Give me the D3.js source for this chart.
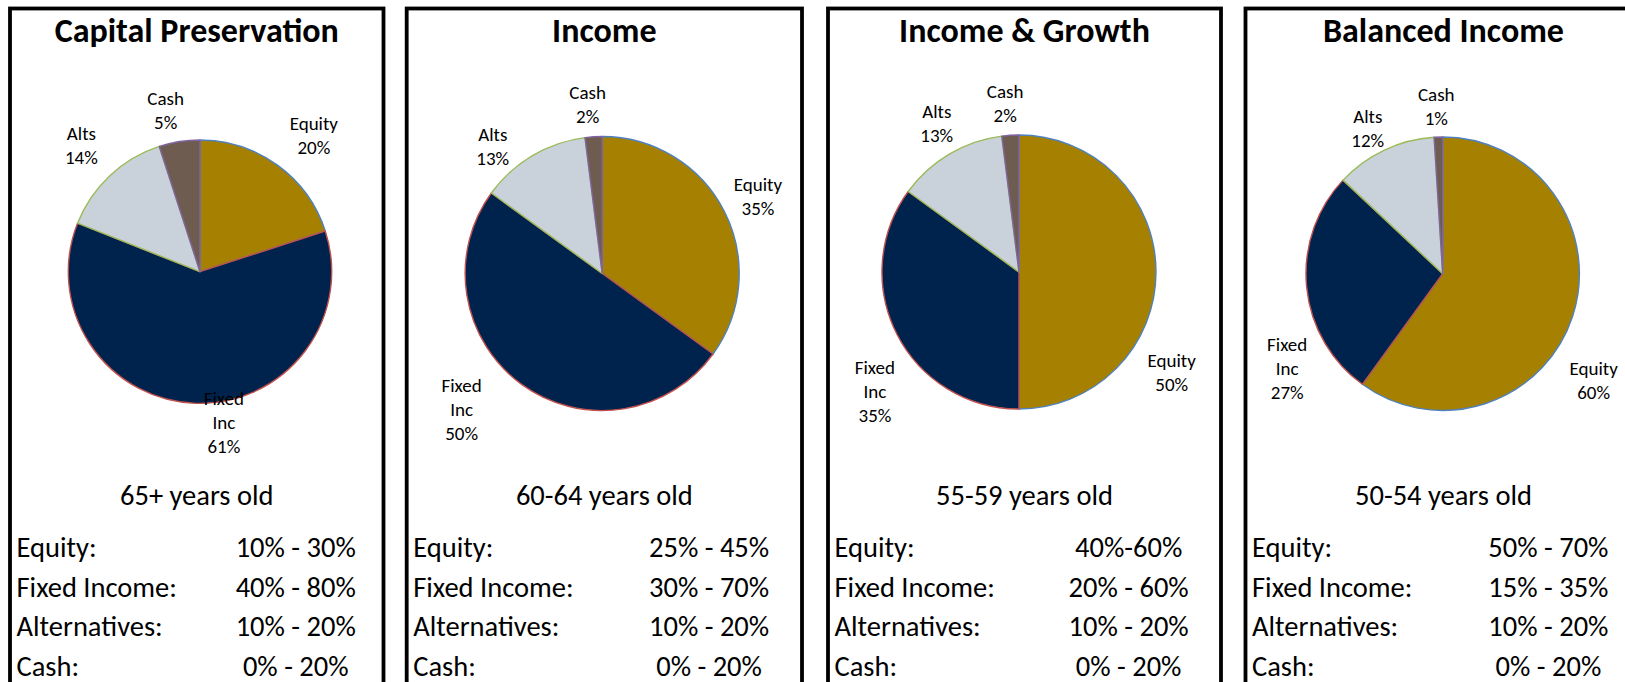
<!DOCTYPE html>
<html>
<head>
<meta charset="utf-8">
<script src="https://cdn.jsdelivr.net/npm/d3@7"></script>
<style>
  html, body { margin: 0; padding: 0; background: #fff; }
  svg { display: block; }
  text { font-family: Carlito, Lato, "Open Sans", sans-serif; fill: #000; }
</style>
</head>
<body>
<svg id="chart"></svg>
<script>
// ---- data ----
const categories = ["Equity", "Fixed Inc", "Alts", "Cash"];
const portfolios = ["Capital Preservation", "Income", "Income & Growth", "Balanced Income"];
const ageBands = ["65+ years old", "60-64 years old", "55-59 years old", "50-54 years old"];

const equityValues   = [20, 35, 50, 60];
const fixedIncValues = [61, 50, 35, 27];
const altsValues     = [14, 13, 13, 12];
const cashValues     = [5, 2, 2, 1];

const rangeNames   = ["Equity:", "Fixed Income:", "Alternatives:", "Cash:"];
const equityRanges = ["10% - 30%", "25% - 45%", "40%-60%", "50% - 70%"];
const fixedRanges  = ["40% - 80%", "30% - 70%", "20% - 60%", "15% - 35%"];
const altsRanges   = ["10% - 20%", "10% - 20%", "10% - 20%", "10% - 20%"];
const cashRanges   = ["0% - 20%", "0% - 20%", "0% - 20%", "0% - 20%"];

// ---- layout ----
const width = 1625, height = 682;

// panel boxes (x, w), pie centre relative to the panel, pie radius
const panels = [
  { x: 10,    w: 373.5, cx: 190,   cy: 271.7, r: 131.7 },
  { x: 406.7, w: 395.3, cx: 195.5, cy: 273.5, r: 137 },
  { x: 828,   w: 393,   cx: 191,   cy: 272,   r: 137 },
  { x: 1245.5,w: 396,   cx: 197.2, cy: 273.7, r: 136.7 }
];

// label directions (degrees clockwise from 12 o'clock) and distance in radii,
// as placed by the original "best fit" layout
const labelPolar = [
  [[39.8, 1.35], [171, 1.158], [316.9, 1.318], [348, 1.255]],
  [[63.7, 1.268], [226, 1.427], [319.3, 1.225], [355.1, 1.241]],
  [[123.2, 1.332], [230.5, 1.363], [331.1, 1.242], [355.3, 1.238]],
  [[125.3, 1.353], [238.6, 1.333], [332.7, 1.195], [357.8, 1.227]]
];

const fillColor = d3.scaleOrdinal()
    .domain(categories)
    .range(["#A68000", "#00234D", "#C9D1DA", "#6D5C4F"]);

const strokeColor = d3.scaleOrdinal()
    .domain(categories)
    .range(["#4F81BD", "#C0504D", "#9BBB59", "#8064A2"]);

const svg = d3.select("#chart")
    .attr("width", width)
    .attr("height", height);

const pie = d3.pie()
    .sort(null)
    .value((d) => d.value);

const labelSize = 19, lineH = 24, capH = 13.5;
const tableSize = 28.5;

portfolios.forEach((name, i) => {
  const p = panels[i];
  const g = svg.append("g")
      .attr("transform", `translate(${p.x},0)`);

  // frame
  g.append("rect")
      .attr("x", 0)
      .attr("y", 8.5)
      .attr("width", p.w)
      .attr("height", height + 20)
      .attr("fill", "none")
      .attr("stroke", "#000")
      .attr("stroke-width", 3.8);

  // title
  g.append("text")
      .attr("x", p.w / 2)
      .attr("y", 41.5)
      .attr("text-anchor", "middle")
      .style("font-size", "34px")
      .style("font-weight", "bold")
      .text(name);

  const slices = [
    { cat: categories[0], value: equityValues[i] },
    { cat: categories[1], value: fixedIncValues[i] },
    { cat: categories[2], value: altsValues[i] },
    { cat: categories[3], value: cashValues[i] }
  ];

  const arc = d3.arc()
      .innerRadius(0)
      .outerRadius(p.r);

  const pg = g.append("g")
      .attr("transform", `translate(${p.cx},${p.cy})`);

  pg.selectAll("path")
      .data(pie(slices))
    .enter().append("path")
      .attr("d", arc)
      .attr("fill", (d) => fillColor(d.data.cat))
      .attr("stroke", (d) => strokeColor(d.data.cat))
      .attr("stroke-width", 1.4)
      .attr("stroke-linejoin", "round");

  // slice labels
  slices.forEach((s, j) => {
    const [deg, k] = labelPolar[i][j];
    const a = deg * Math.PI / 180;
    const lx = Math.sin(a) * p.r * k;
    const ly = -Math.cos(a) * p.r * k;
    const lines = s.cat === "Fixed Inc" ? ["Fixed", "Inc"] : [s.cat];
    lines.push(s.value + "%");
    const first = ly - ((lines.length - 1) * lineH + capH) / 2 + capH;
    const t = pg.append("text")
        .attr("text-anchor", "middle")
        .style("font-size", labelSize + "px");
    lines.forEach((ln, m) => {
      t.append("tspan")
          .attr("x", lx)
          .attr("y", first + m * lineH)
          .text(ln);
    });
  });

  // age band
  g.append("text")
      .attr("x", p.w / 2)
      .attr("y", 505)
      .attr("text-anchor", "middle")
      .style("font-size", tableSize + "px")
      .text(ageBands[i]);

  // allocation ranges
  const ranges = [equityRanges[i], fixedRanges[i], altsRanges[i], cashRanges[i]];
  rangeNames.forEach((rn, j) => {
    const y = 557 + j * 39.5;
    g.append("text")
        .attr("x", 6.5)
        .attr("y", y)
        .style("font-size", tableSize + "px")
        .text(rn);
    g.append("text")
        .attr("x", p.w * 0.765)
        .attr("y", y)
        .attr("text-anchor", "middle")
        .style("font-size", tableSize + "px")
        .text(ranges[j]);
  });
});
</script>
</body>
</html>
